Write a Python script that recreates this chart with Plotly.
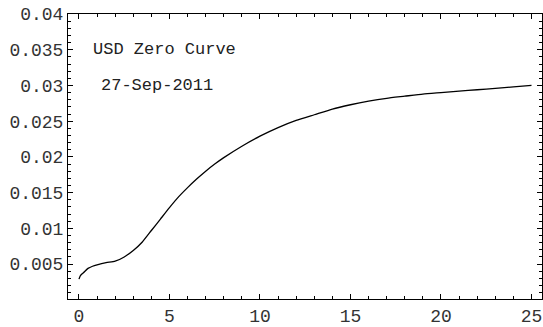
import plotly.graph_objects as go

maturity = [0, 0.08, 0.25, 0.5, 0.75, 1, 1.5, 2, 2.5, 3, 3.5, 4, 4.5, 5, 5.5, 6, 6.5, 7, 7.5, 8,
            9, 10, 11, 12, 13, 14, 15, 16, 17, 18, 19, 20, 21, 22, 23, 24, 25]
zero_rate = [0.0029, 0.0034, 0.0038, 0.0044, 0.0047, 0.0049, 0.0052, 0.0054, 0.0060, 0.0069,
             0.0081, 0.0097, 0.0113, 0.0129, 0.0144, 0.0157, 0.0169, 0.0180, 0.0190, 0.0199,
             0.0215, 0.0229, 0.0241, 0.0251, 0.0259, 0.0267, 0.0273, 0.0278, 0.0282, 0.0285,
             0.0288, 0.0290, 0.0292, 0.0294, 0.0296, 0.0298, 0.0300]

x_ticks = [0, 5, 10, 15, 20, 25]
y_ticks = [0.005, 0.01, 0.015, 0.02, 0.025, 0.03, 0.035, 0.04]
y_tick_labels = ["0.005", "0.01", "0.015", "0.02", "0.025", "0.03", "0.035", "0.04"]

title_text = "USD Zero Curve"
date_text = "27-Sep-2011"

mono = "Liberation Mono, Courier New, monospace"

fig = go.Figure()
fig.add_trace(go.Scatter(x=maturity, y=zero_rate, mode="lines",
                         line=dict(color="black", width=1.3, shape="spline", smoothing=0.5),
                         showlegend=False, hoverinfo="skip"))

fig.add_annotation(x=0.68, y=0.035, xref="x", yref="y", text=title_text, showarrow=False,
                   xanchor="left", yanchor="middle", font=dict(family=mono, size=17, color="#222"))
fig.add_annotation(x=1.12, y=0.030, xref="x", yref="y", text=date_text, showarrow=False,
                   xanchor="left", yanchor="middle", font=dict(family=mono, size=17, color="#222"))

axis_common = dict(showgrid=False, zeroline=False, showline=True, linecolor="black", linewidth=1,
                   mirror="ticks", ticks="inside", ticklen=5, tickwidth=1, tickcolor="black",
                   tickfont=dict(family=mono, size=18, color="#333"))

fig.update_xaxes(range=[-0.606, 25.58], tickvals=x_ticks,
                 minor=dict(dtick=1, ticks="inside", ticklen=3, tickcolor="black", tickwidth=1),
                 **axis_common)
fig.update_yaxes(range=[0.000116, 0.04], tickvals=y_ticks, ticktext=y_tick_labels,
                 minor=dict(dtick=0.001, tick0=0, ticks="inside", ticklen=3, tickcolor="black", tickwidth=1),
                 **axis_common)

fig.update_layout(width=543, height=327, margin=dict(l=68, r=0, t=14, b=19),
                  plot_bgcolor="white", paper_bgcolor="white")

fig.write_html("out.html")
